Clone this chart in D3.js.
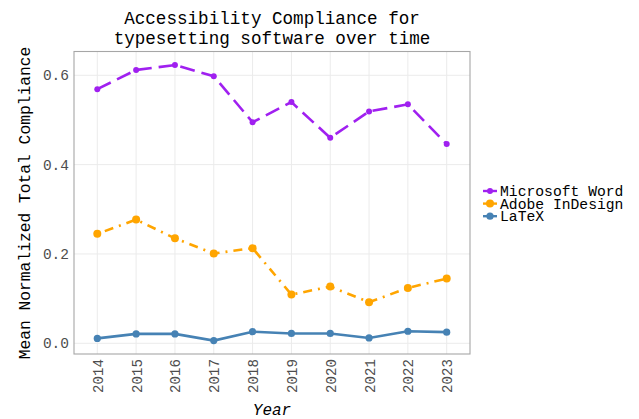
<!DOCTYPE html>
<html>
<head>
<meta charset="utf-8">
<script src="https://cdn.jsdelivr.net/npm/d3@7"></script>
<style>
  body { margin: 0; background: #fff; }
  text { font-family: "Liberation Mono", "DejaVu Sans Mono", monospace; }
</style>
</head>
<body>
<svg id="chart" viewBox="0 0 639 419" width="639" height="419"></svg>
<script>
// data
const years = [2014, 2015, 2016, 2017, 2018, 2019, 2020, 2021, 2022, 2023];
const word = [0.569, 0.612, 0.623, 0.598, 0.495, 0.540, 0.460, 0.519, 0.535, 0.446];
const indesign = [0.245, 0.277, 0.235, 0.201, 0.213, 0.109, 0.127, 0.092, 0.124, 0.145];
const latex = [0.011, 0.021, 0.021, 0.006, 0.026, 0.022, 0.022, 0.012, 0.027, 0.025];
const yTicks = [0.0, 0.2, 0.4, 0.6];

const series = [
    {name: "Microsoft Word", values: word, color: "#a020f0", dash: "15,7", r: 3},
    {name: "Adobe InDesign", values: indesign, color: "#ffa500", dash: "2,6,9,6", r: 4},
    {name: "LaTeX", values: latex, color: "#4682b4", dash: null, r: 3.6}
];

let svg = d3.select("#chart");
let panel = {left: 74, right: 470, top: 51.5, bottom: 354};

let x = d3.scalePoint()
    .domain(years)
    .range([97.3, 446.7]);

let y = d3.scaleLinear()
    .domain([0, 0.6])
    .range([343.3, 75.3]);

/* ----- grid ----- */
let grid = svg.append("g");
grid.selectAll(".vgrid")
    .data(years)
    .enter().append("line")
    .attr("x1", d => x(d)).attr("x2", d => x(d))
    .attr("y1", panel.top).attr("y2", panel.bottom)
    .attr("stroke", "#ebebeb").attr("stroke-width", 1);
grid.selectAll(".hgrid")
    .data(yTicks)
    .enter().append("line")
    .attr("x1", panel.left).attr("x2", panel.right)
    .attr("y1", d => y(d)).attr("y2", d => y(d))
    .attr("stroke", "#ebebeb").attr("stroke-width", 1);

/* ----- lines and points ----- */
let line = d3.line()
    .x((d, i) => x(years[i]))
    .y(d => y(d));

series.forEach(s => {
    svg.append("path")
        .datum(s.values)
        .attr("d", line)
        .attr("fill", "none")
        .attr("stroke", s.color)
        .attr("stroke-width", 2.6)
        .attr("stroke-dasharray", s.dash);
    svg.append("g").selectAll("circle")
        .data(s.values)
        .enter().append("circle")
        .attr("cx", (d, i) => x(years[i]))
        .attr("cy", d => y(d))
        .attr("r", s.r)
        .attr("fill", s.color);
});

/* ----- panel border ----- */
svg.append("rect")
    .attr("x", panel.left).attr("y", panel.top)
    .attr("width", panel.right - panel.left)
    .attr("height", panel.bottom - panel.top)
    .attr("fill", "none")
    .attr("stroke", "#a6a6a6")
    .attr("stroke-width", 1.1);

/* ----- axes ----- */
let yAxis = d3.axisLeft(y).tickValues(yTicks).tickFormat(d3.format(".1f")).tickSize(0).tickPadding(5);
svg.append("g")
    .attr("transform", `translate(${panel.left},0)`)
    .call(yAxis)
    .call(g => g.select(".domain").remove())
    .selectAll("text")
    .attr("font-size", 14.5)
    .attr("fill", "#4d4d4d")
    .attr("font-family", "Liberation Mono");

let xAxis = d3.axisBottom(x).tickSize(0).tickPadding(0);
svg.append("g")
    .attr("transform", `translate(0,${panel.bottom})`)
    .call(xAxis)
    .call(g => g.select(".domain").remove())
    .selectAll("text")
    .attr("font-size", 14.2)
    .attr("fill", "#4d4d4d")
    .attr("font-family", "Liberation Mono")
    .attr("text-anchor", "end")
    .attr("dy", "0.35em")
    .attr("transform", "translate(0,5) rotate(-90)");

/* ----- titles ----- */
let title = svg.append("text")
    .attr("text-anchor", "middle")
    .attr("font-size", 17.6)
    .attr("fill", "#000");
title.append("tspan").attr("x", 272).attr("y", 24).text("Accessibility Compliance for");
title.append("tspan").attr("x", 272).attr("y", 44).text("typesetting software over time");

svg.append("text")
    .attr("x", 272).attr("y", 415)
    .attr("text-anchor", "middle")
    .attr("font-size", 16)
    .attr("font-style", "italic")
    .text("Year");

svg.append("text")
    .attr("transform", "translate(30,203) rotate(-90)")
    .attr("text-anchor", "middle")
    .attr("font-size", 16.3)
    .text("Mean Normalized Total Compliance");

/* ----- legend ----- */
let legend = svg.append("g")
    .attr("transform", "translate(483,191)")
    .selectAll("g")
    .data(series)
    .enter().append("g")
    .attr("transform", (d, i) => `translate(0,${i * 12.6})`);

legend.append("line")
    .attr("x1", 0).attr("x2", 14)
    .attr("stroke", d => d.color)
    .attr("stroke-width", 2.4);
legend.append("circle")
    .attr("cx", 7).attr("r", d => d.r)
    .attr("fill", d => d.color);
legend.append("text")
    .attr("x", 17)
    .attr("dy", "0.35em")
    .attr("font-size", 14.7)
    .text(d => d.name);
</script>
</body>
</html>
